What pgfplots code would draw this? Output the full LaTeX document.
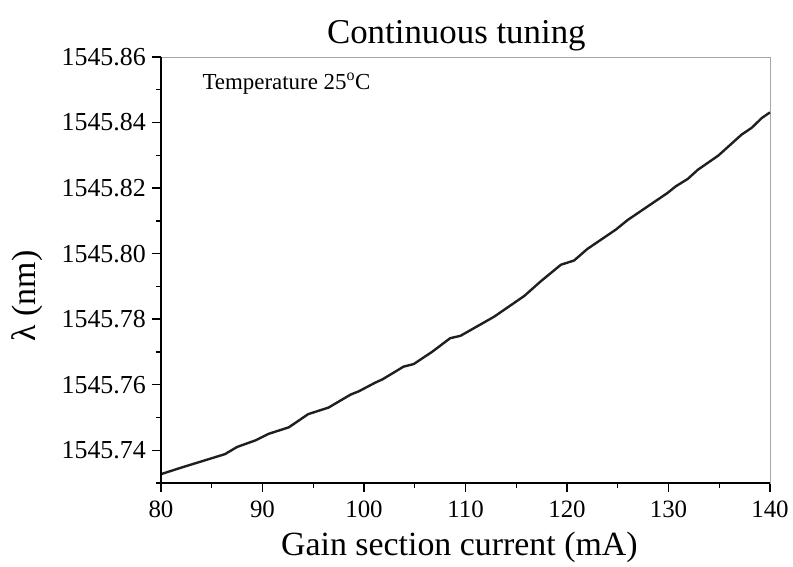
\documentclass[border=0pt]{standalone}
\usepackage{fontspec}
\setmainfont{Liberation Serif}
\usepackage{pgfplots}
\pgfplotsset{compat=1.18}

\pgfplotstableread{
I lambda
80.0  1545.7327
82.0  1545.7347
84.0  1545.7366
86.3  1545.7388
87.5  1545.7410
89.3  1545.7430
90.6  1545.7450
92.6  1545.7470
94.5  1545.7510
96.5  1545.7530
98.7  1545.7570
99.5  1545.7580
101.1 1545.7606
101.8 1545.7616
103.9 1545.7655
104.9 1545.7663
106.7 1545.7700
108.5 1545.7742
109.5 1545.7749
112.8 1545.7807
115.8 1545.7871
117.4 1545.7915
119.4 1545.7966
120.7 1545.7979
122.0 1545.8014
124.8 1545.8073
126.0 1545.8103
129.9 1545.8185
130.7 1545.8205
131.9 1545.8228
132.9 1545.8256
134.9 1545.8299
137.2 1545.8363
138.2 1545.8384
139.2 1545.8414
140.0 1545.8431
}\tuning

\begin{document}
\begin{tikzpicture}
\begin{axis}[
  scale only axis,
  width=609bp, height=426bp,
  xmin=80, xmax=140, ymin=1545.73, ymax=1545.86,
  xtick={80,90,...,140},
  ytick={1545.74,1545.76,1545.78,1545.80,1545.82,1545.84,1545.86},
  minor xtick={85,95,...,135},
  minor ytick={1545.73,1545.75,1545.77,1545.79,1545.81,1545.83,1545.85},
  tick align=outside,
  xtick pos=bottom, ytick pos=left,
  major tick length=9bp, minor tick length=5bp,
  every tick/.style={black, line width=1.4bp},
  axis line style={gray!70, line width=0.6bp},
  /pgf/number format/assume math mode=true,
  y tick label style={/pgf/number format/fixed, /pgf/number format/fixed zerofill,
    /pgf/number format/precision=2, /pgf/number format/1000 sep={},
    font=\fontsize{26}{30}\selectfont},
  x tick label style={font=\fontsize{25}{30}\selectfont},
  xticklabel style={anchor=base, yshift=-26bp},
  yticklabel style={anchor=east, inner sep=0pt, xshift=-6bp},
  clip=false,
]
\addplot[line width=2.4bp, color=black!88, line join=round] table[x=I, y=lambda] {\tuning};

% heavier left and bottom spines
\draw[black, line width=1.6bp] (rel axis cs:0,1) -- (rel axis cs:0,0) -- (rel axis cs:1,0);

\node[anchor=base, font=\fontsize{35}{40}\selectfont] at ([yshift=13bp]rel axis cs:0.485,1) {Continuous tuning};
\node[anchor=base, font=\fontsize{34}{38}\selectfont] at ([yshift=-72bp]rel axis cs:0.49,0) {Gain section current (mA)};
\node[anchor=base, rotate=90, font=\fontsize{34}{38}\selectfont] at ([xshift=-125bp]rel axis cs:0,0.439) {λ (nm)};
\node[anchor=base west, font=\fontsize{23}{26}\selectfont] at ([xshift=38bp, yshift=-33bp]rel axis cs:0,1) {Temperature 25\textsuperscript{o}C};
\end{axis}
\useasboundingbox (-161bp,-84bp) rectangle (632bp,483bp);
\end{tikzpicture}
\end{document}
